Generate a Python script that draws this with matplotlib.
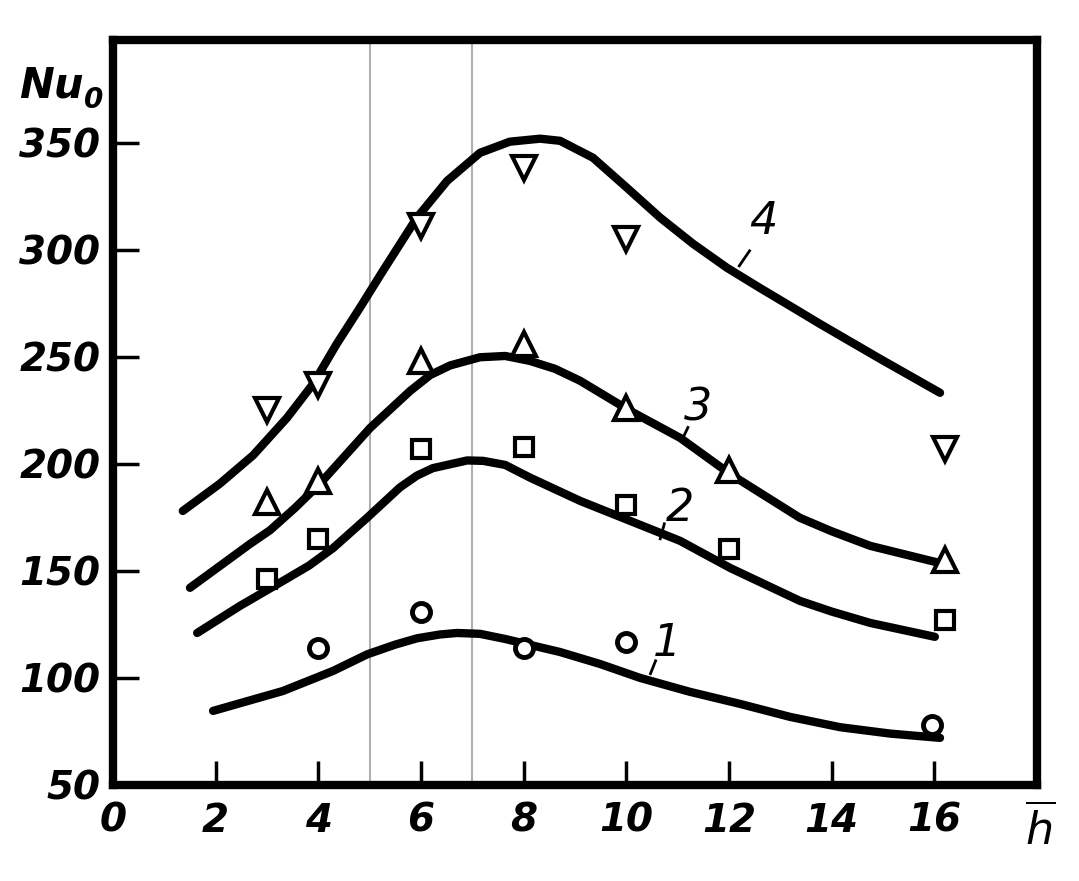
import matplotlib
matplotlib.use('Agg')
import matplotlib.pyplot as plt

plt.rcParams['font.family'] = ['DejaVu Sans Condensed', 'Liberation Sans Narrow', 'DejaVu Sans']
plt.rcParams['mathtext.fontset'] = 'dejavusans'

# кривые (h, Nu0)
curve1_x = [1.95, 3.31, 4.29, 4.95, 5.49, 5.92, 6.37, 6.70, 7.15, 7.64, 8.13, 8.71,
            9.49, 10.27, 11.24, 12.21, 13.19, 14.16, 15.14, 16.11]
curve1_y = [84.6, 93.9, 103.3, 111.0, 115.5, 118.5, 120.3, 121.0, 120.6, 118.2, 115.4, 112.1,
            106.5, 100.0, 93.5, 87.9, 81.8, 77.0, 74.0, 72.0]
curve2_x = [1.64, 2.47, 3.31, 3.82, 4.29, 4.95, 5.59, 5.92, 6.23, 6.90, 7.21, 7.64, 8.13, 9.10,
            10.07, 11.05, 12.02, 13.38, 14.0, 14.75, 16.01]
curve2_y = [121.0, 133.6, 145.3, 152.5, 160.7, 174.8, 189.0, 194.5, 198.0, 201.6, 201.4, 199.5, 193.5, 182.7,
            173.4, 164.0, 151.4, 136.0, 131.0, 125.7, 119.2]
curve3_x = [1.50, 2.67, 3.06, 3.55, 4.03, 5.01, 5.79, 6.18, 6.57, 7.15, 7.64, 8.12, 8.61, 9.10,
            10.07, 11.05, 12.02, 13.38, 14.0, 14.75, 16.17]
curve3_y = [142.1, 162.6, 169.0, 179.5, 190.7, 216.8, 234.1, 241.5, 246.0, 249.8, 250.4, 248.1, 244.4, 238.8,
            224.8, 212.1, 195.3, 174.8, 168.5, 161.7, 153.3]
curve4_x = [1.36, 2.08, 2.73, 3.39, 3.90, 4.36, 4.81, 5.26, 5.92, 6.51, 7.15, 7.73, 8.32,
            8.71, 9.35, 10.01, 10.66, 11.30, 11.96, 12.60, 13.25, 13.77, 14.94, 16.11]
curve4_y = [178.0, 190.7, 204.0, 221.5, 237.4, 256.1, 272.9, 290.2, 315.0, 332.2, 345.3, 350.5, 351.9,
            350.9, 343.0, 329.0, 315.0, 302.8, 291.6, 282.2, 272.9, 265.4, 249.1, 233.2]

# опытные точки
pts1_x = [4, 6, 8, 10, 15.95]
pts1_y = [114, 131, 114, 117, 78]
pts2_x = [3, 4, 6, 8, 10, 12, 16.2]
pts2_y = [146, 165, 207, 208, 181, 160, 127]
pts3_x = [3, 4, 6, 8, 10, 12, 16.2]
pts3_y = [182, 192, 248, 256, 226, 197, 155]
pts4_x = [3, 4, 6, 8, 10, 16.2]
pts4_y = [225, 237, 311, 338, 305, 207]

x_ticks = [0, 2, 4, 6, 8, 10, 12, 14, 16]
y_ticks = [50, 100, 150, 200, 250, 300, 350]

fig = plt.figure(figsize=(10.79, 8.81), dpi=100)
ax = fig.add_axes([0.1047, 0.109, 0.8564, 0.8456])

ax.axvline(5, color='#b0b0b0', lw=1.5, zorder=1)
ax.axvline(7, color='#b0b0b0', lw=1.5, zorder=1)

for cx, cy in [(curve1_x, curve1_y), (curve2_x, curve2_y),
               (curve3_x, curve3_y), (curve4_x, curve4_y)]:
    ax.plot(cx, cy, color='black', lw=6, solid_capstyle='round',
            solid_joinstyle='round', zorder=2)

ax.plot(pts1_x, pts1_y, 'o', ms=13, mfc='white', mec='black', mew=3.5, zorder=3)
ax.plot(pts2_x, pts2_y, 's', ms=13, mfc='white', mec='black', mew=3, zorder=3)
ax.plot(pts3_x, pts3_y, '^', ms=17, mfc='white', mec='black', mew=3, zorder=3)
ax.plot(pts4_x, pts4_y, 'v', ms=17, mfc='white', mec='black', mew=3, zorder=3)

# номера кривых с выносками
labels = [('1', 10.8, 116, 10.47, 102, 10.57, 108),
          ('2', 11.05, 179, 10.66, 165, 10.74, 172),
          ('3', 11.4, 226, 11.1, 212, 11.2, 217),
          ('4', 12.67, 313, 12.2, 292.5, 12.4, 299.5)]
for txt, tx, ty, x1, y1, x2, y2 in labels:
    ax.text(tx, ty, txt, fontsize=32, style='italic', ha='center', va='center')
    ax.plot([x1, x2], [y1, y2], color='black', lw=2)

ax.set_xlim(0, 18)
ax.set_ylim(50, 398)
ax.set_xticks(x_ticks)
ax.set_yticks(y_ticks)
ax.set_xticklabels([str(v) for v in x_ticks], fontsize=28, style='italic', fontweight='bold')
ax.set_yticklabels([str(v) for v in y_ticks], fontsize=28, style='italic', fontweight='bold')
ax.tick_params(axis='x', direction='in', length=17, width=2.5, pad=12)
ax.tick_params(axis='y', direction='in', length=19, width=2.5, pad=9)
for s in ax.spines.values():
    s.set_linewidth(6)

fig.text(0.018, 1 - 98 / 881, 'Nu', fontsize=30, style='italic', fontweight='bold')
fig.text(0.078, 1 - 108 / 881, '0', fontsize=20, style='italic', fontweight='bold')
fig.text(0.964, 0.058, r'$\overline{\mathbf{\mathit{h}}}$', fontsize=32, ha='center', va='center')

fig.savefig('out.png', dpi=100)
